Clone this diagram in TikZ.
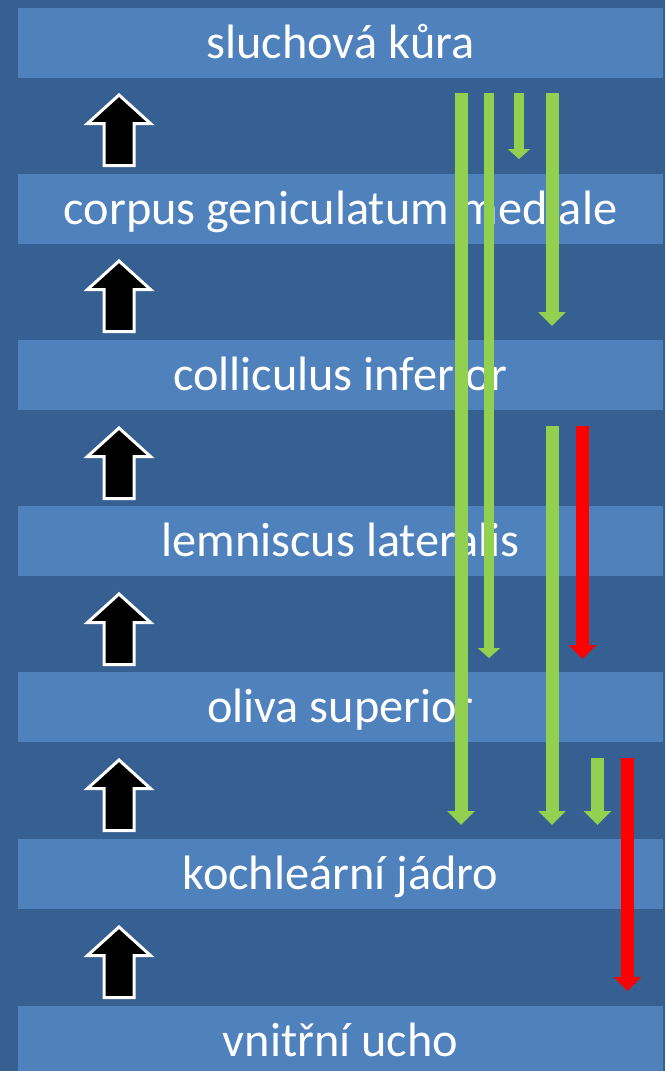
\documentclass[tikz,border=0pt]{standalone}
\usepackage{fontspec}
\setmainfont{Carlito}
\usepackage{tikz}
\usetikzlibrary{arrows.meta, positioning}
\definecolor{SlideBlue}{HTML}{376092}
\definecolor{BarBlue}{HTML}{4F81BD}
\definecolor{PathGreen}{HTML}{92D050}
\definecolor{PathRed}{HTML}{FF0000}

\begin{document}
\begin{tikzpicture}[
    x=1pt, y=-1pt,
    bar/.style={
        fill=BarBlue,
        minimum width=645pt,
        minimum height=70pt,
        text=white,
        text height=35pt,
        text depth=4pt,
        font=\fontsize{48.3}{56}\selectfont
    },
    down/.style={draw=PathGreen, line width=13pt,
        -{Triangle[width=27pt, length=14pt]}},
    downthin/.style={draw=PathGreen, line width=10pt,
        -{Triangle[width=22pt, length=10pt]}},
    downred/.style={down, draw=PathRed},
    uparr/.pic={
        \draw[fill=black, draw=white, line width=3pt, line join=miter]
            (0,2) -- (31.5,30.5) -- (15,30.5) -- (15,72.5)
            -- (-15,72.5) -- (-15,30.5) -- (-31.5,30.5) -- cycle;
    }
]

\clip (0,0) rectangle (665,1071);
\fill[SlideBlue] (0,0) rectangle (665,1071);

% levels
\node[bar] (kura) at (340.5,42.5) {sluchová kůra};
\node[bar] (cgm) at (340.5,208.5) {corpus geniculatum mediale};
\node[bar] (ci) at (340.5,375) {colliculus inferior};
\node[bar] (ll) at (340.5,541) {lemniscus lateralis};
\node[bar] (os) at (340.5,707) {oliva superior};
\node[bar] (kj) at (340.5,873.5) {kochleární jádro};
\node[bar] (ucho) at (340.5,1040.5) {vnitřní ucho};

% ascending path
\foreach \y in {93,259,426,592,758,925}
    \pic at (119,\y) {uparr};

% descending path, ends
\coordinate (g1a) at (461,93);   \coordinate (g1b) at (461,825);
\coordinate (g2a) at (489,93);   \coordinate (g2b) at (489,658);
\coordinate (g3a) at (519,93);   \coordinate (g3b) at (519,159);
\coordinate (g4a) at (552,93);   \coordinate (g4b) at (552,326);
\coordinate (g5a) at (552,426);  \coordinate (g5b) at (552,825);
\coordinate (r1a) at (582.5,426); \coordinate (r1b) at (582.5,659);
\coordinate (g6a) at (597.5,758); \coordinate (g6b) at (597.5,825);
\coordinate (r2a) at (627.5,758); \coordinate (r2b) at (627.5,991);

% descending path
\draw[down] (g1a) -- (g1b);
\draw[downthin] (g2a) -- (g2b);
\draw[downthin] (g3a) -- (g3b);
\draw[down] (g4a) -- (g4b);
\draw[down] (g5a) -- (g5b);
\draw[downred] (r1a) -- (r1b);
\draw[down] (g6a) -- (g6b);
\draw[downred] (r2a) -- (r2b);

\end{tikzpicture}
\end{document}
